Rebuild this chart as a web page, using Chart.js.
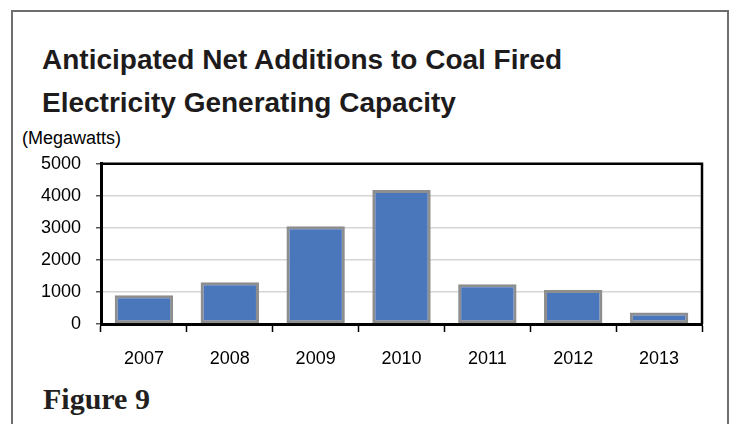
<!DOCTYPE html>
<html>
<head>
<meta charset="utf-8">
<script src="https://cdn.jsdelivr.net/npm/chart.js@4.4.1/dist/chart.umd.min.js"></script>
<style>
    html, body { margin: 0; padding: 0; background: #fff; }
    body { width: 730px; height: 424px; position: relative; overflow: hidden; font-family: "Liberation Sans", Arial, sans-serif; }
    .frame { position: absolute; left: 11px; top: 10px; width: 718px; height: 430px; border: 2px solid #6e6e6e; box-sizing: border-box; }
    .title { position: absolute; left: 42px; top: 38px; font-weight: bold; font-size: 28px; line-height: 43px; color: #1e1b1c; white-space: nowrap; }
    .units { position: absolute; left: 22px; top: 128px; font-size: 18px; color: #000; }
    .figure { position: absolute; left: 43px; top: 382px; font-family: "Liberation Serif", "Times New Roman", serif; font-weight: bold; font-size: 30px; color: #231f20; }
    #chartWrap { position: absolute; left: 0; top: 138px; width: 730px; height: 242px; }
</style>
</head>
<body>
<div class="frame"></div>
<div class="title">Anticipated Net Additions to Coal Fired<br>Electricity Generating Capacity</div>
<div class="units">(Megawatts)</div>
<div class="figure">Figure 9</div>
<div id="chartWrap"><canvas id="capacityChart" width="730" height="242"></canvas></div>

<script>
// Chart data
const years = ['2007', '2008', '2009', '2010', '2011', '2012', '2013'];
const megawatts = [900, 1300, 3050, 4180, 1240, 1060, 360];
const yTicks = [0, 1000, 2000, 3000, 4000, 5000];

/**
 * Draws the black top and right edges of the plot box
 */
const plotBox = {
    id: 'plotBox',
    afterDraw(chart) {
        const { ctx, chartArea: a } = chart;
        ctx.save();
        ctx.strokeStyle = '#000';
        ctx.lineWidth = 2.5;
        ctx.beginPath();
        ctx.moveTo(a.left, a.top);
        ctx.lineTo(a.right, a.top);
        ctx.lineTo(a.right, a.bottom);
        ctx.stroke();
        ctx.restore();
    }
};

document.addEventListener('DOMContentLoaded', function() {
    const ctx = document.getElementById('capacityChart');
    new Chart(ctx, {
        type: 'bar',
        data: {
            labels: years,
            datasets: [{
                data: megawatts,
                backgroundColor: '#4a76bb',
                borderColor: '#8e8e8e',
                borderWidth: 3,
                borderSkipped: false,
                barPercentage: 0.68,
                categoryPercentage: 1.0
            }]
        },
        options: {
            responsive: false,
            animation: false,
            layout: { padding: { left: 0, right: 28, top: 2, bottom: 0 } },
            plugins: {
                legend: { display: false },
                tooltip: { enabled: false }
            },
            scales: {
                x: {
                    grid: {
                        offset: true,
                        drawOnChartArea: false,
                        drawTicks: true,
                        tickLength: 8,
                        tickColor: '#000',
                        tickWidth: 1.5
                    },
                    border: { color: '#000', width: 3 },
                    ticks: {
                        color: '#000',
                        font: { family: 'Liberation Sans', size: 18 },
                        padding: 16
                    },
                    afterFit(scale) { scale.height = 56; }
                },
                y: {
                    min: 0,
                    max: 5000,
                    afterBuildTicks(scale) {
                        scale.ticks = yTicks.map(v => ({ value: v }));
                    },
                    grid: {
                        color: '#d6d6d6',
                        lineWidth: 1.5,
                        tickLength: 5,
                        tickColor: '#555'
                    },
                    border: { color: '#000', width: 3 },
                    ticks: {
                        color: '#000',
                        font: { family: 'Liberation Sans', size: 18 },
                        padding: 15,
                        callback: value => String(value)
                    },
                    afterFit(scale) { scale.width = 101; }
                }
            }
        },
        plugins: [plotBox]
    });
});
</script>
</body>
</html>
